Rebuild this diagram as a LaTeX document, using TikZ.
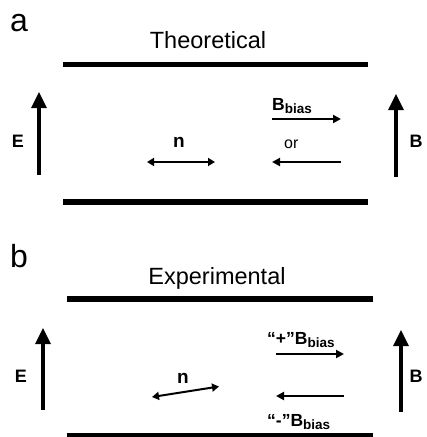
\documentclass[tikz,border=0pt]{standalone}
\usepackage{fontspec}
\setmainfont{Liberation Sans}
\usetikzlibrary{arrows.meta}
\newcommand{\fs}[1]{\fontsize{#1}{#1}\selectfont}
\newcommand{\Bb}{\textbf{B}\raisebox{-0.2em}{\fs{13.5}\textbf{bias}}}
\tikzset{
  plate/.style={line width=5.5pt},
  field/.style={line width=3.2pt, -{Triangle[length=16pt,width=15pt]}},
  bias/.style={line width=2.4pt, -{Triangle[length=8pt,width=8pt]}},
  dir/.style={line width=2pt, {Triangle[length=7pt,width=8pt]}-{Triangle[length=7pt,width=8pt]}},
  panel/.style={font=\fs{32}, inner sep=0pt, anchor=base},
  title/.style={font=\fs{23.5}, inner sep=0pt, anchor=base},
  lbl/.style={font=\fs{18}\bfseries, inner sep=0pt},
  nlbl/.style={font=\fs{19}\bfseries, inner sep=0pt},
  txt/.style={font=\fs{16}, inner sep=0pt, anchor=base west},
  blbl/.style={font=\fs{17.5}, inner sep=0pt, anchor=base west},
}
\begin{document}
\begin{tikzpicture}[x=1pt,y=-1pt]
\useasboundingbox (0,0) rectangle (427,437);
% ---------- panel a ----------
\node[panel] (la) at (19,31) {a};
\node[title] (ta) at (208,48) {Theoretical};
\coordinate (pa1) at (63,64.5); \coordinate (pa2) at (368,64.5);
\coordinate (pa3) at (63,202); \coordinate (pa4) at (368,202);
\draw[plate] (pa1) -- (pa2);
\draw[plate] (pa3) -- (pa4);
\coordinate (ea0) at (39,175); \coordinate (ea1) at (39,92);
\draw[field] (ea0) -- (ea1);
\node[lbl] (Ea) at (18,141) {E};
\coordinate (ba0) at (396,177); \coordinate (ba1) at (396,94);
\draw[field] (ba0) -- (ba1);
\node[lbl] (Ba) at (416,141) {B};
\node[nlbl] (na) at (179,142) {n};
\coordinate (na0) at (147,162); \coordinate (na1) at (215,162);
\draw[dir] (na0) -- (na1);
\node[blbl] (bba) at (272,110) {\Bb};
\coordinate (bra0) at (272,119); \coordinate (bra1) at (341,119);
\draw[bias] (bra0) -- (bra1);
\node[txt] (or) at (284,148) {or};
\coordinate (bla0) at (341,162); \coordinate (bla1) at (272,162);
\draw[bias] (bla0) -- (bla1);
% ---------- panel b ----------
\node[panel] (lb) at (19,267) {b};
\node[title] (tb) at (217,284) {Experimental};
\coordinate (pb1) at (67,299); \coordinate (pb2) at (373,299);
\coordinate (pb3) at (67,436); \coordinate (pb4) at (373,436);
\draw[plate] (pb1) -- (pb2);
\draw[plate] (pb3) -- (pb4);
\coordinate (eb0) at (43,410); \coordinate (eb1) at (43,328);
\draw[field] (eb0) -- (eb1);
\node[lbl] (Eb) at (21,376) {E};
\coordinate (bb0) at (401,412); \coordinate (bb1) at (401,330);
\draw[field] (bb0) -- (bb1);
\node[lbl] (Bb) at (416,376) {B};
\node[nlbl] (nb) at (183,378) {n};
\coordinate (nb0) at (152,397); \coordinate (nb1) at (219,386.5);
\draw[dir] (nb0) -- (nb1);
\node[blbl] (bbp) at (267,344) {\textbf{“+”}\Bb};
\coordinate (brb0) at (276,354); \coordinate (brb1) at (344,354);
\draw[bias] (brb0) -- (brb1);
\coordinate (blb0) at (344,396); \coordinate (blb1) at (276,396);
\draw[bias] (blb0) -- (blb1);
\node[blbl] (bbm) at (267,426) {\textbf{“-”}\Bb};
\end{tikzpicture}
\end{document}
